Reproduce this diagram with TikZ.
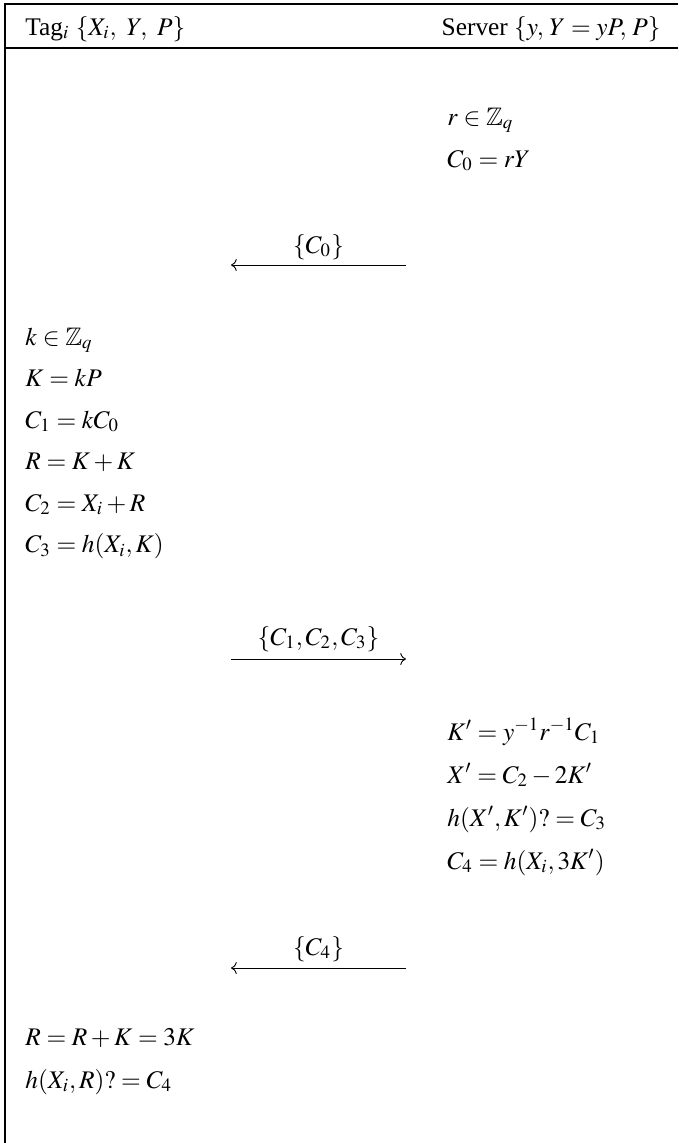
\documentclass[tikz,border=0pt]{standalone}
\usepackage{amssymb}
\usepackage{mathptmx}
\usepackage{fontspec}
\setmainfont{Liberation Serif}
\usetikzlibrary{arrows.meta,positioning}
\newcommand{\protofont}{\fontsize{11pt}{13pt}\selectfont}
\tikzset{
  protoframe/.style={draw=black,line width=0.65pt},
  protohead/.style={inner sep=0pt,font=\protofont},
  protostep/.style={inner sep=0pt,anchor=base west,font=\protofont},
  protomsg/.style={inner sep=0pt,anchor=base,font=\protofont},
  protoflow/.style={-To,draw=black,line width=0.4pt}
}

\begin{document}
\begin{tikzpicture}[x=0.434pt,y=-0.434pt]
  \useasboundingbox (0,0) rectangle (678,1143);
  % frame of the table
  \draw[protoframe] (678,4) -- (5,4) -- (5,1143);
  \draw[protoframe] (5,48) -- (678,48);
  % header
  \node[protohead,anchor=base west] (tag) at (25,35) {Tag$_i$ $\{X_i,\mkern5mu Y,\mkern5mu P\}$};
  \node[protohead,anchor=base east] (server) at (661,35) {Server $\{y,\mkern2mu Y=yP,\mkern2mu P\}$};
  % server: first step
  \node[protostep] (s1) at (447,125) {$r\in\mathbb{Z}_q$};
  \node[protostep] (s2) at (447,167) {$C_0=rY$};
  % message 1
  \coordinate (m1a) at (406,265);
  \coordinate (m1b) at (231,265);
  \draw[protoflow] (m1a) -- (m1b);
  \node[protomsg] (m1) at (318.5,253) {$\{C_0\}$};
  % tag: response
  \node[protostep] (t1) at (25,345) {$k\in\mathbb{Z}_q$};
  \node[protostep] (t2) at (25,386.5) {$K=kP$};
  \node[protostep] (t3) at (25,428) {$C_1=kC_0$};
  \node[protostep] (t4) at (25,469.5) {$R=K+K$};
  \node[protostep] (t5) at (25,511) {$C_2=X_i+R$};
  \node[protostep] (t6) at (25,552.5) {$C_3=h(X_i,K)$};
  % message 2
  \coordinate (m2a) at (231,659);
  \coordinate (m2b) at (406,659);
  \draw[protoflow] (m2a) -- (m2b);
  \node[protomsg] (m2) at (318.5,645) {$\{C_1,C_2,C_3\}$};
  % server: check
  \node[protostep] (s3) at (447,740) {$K'=y^{-1}r^{-1}C_1$};
  \node[protostep] (s4) at (447,783) {$X'=C_2-2K'$};
  \node[protostep] (s5) at (447,826) {$h(X',K')?=C_3$};
  \node[protostep] (s6) at (447,869) {$C_4=h(X_i,3K')$};
  % message 3
  \coordinate (m3a) at (406,968);
  \coordinate (m3b) at (231,968);
  \draw[protoflow] (m3a) -- (m3b);
  \node[protomsg] (m3) at (318.5,955) {$\{C_4\}$};
  % tag: final check
  \node[protostep] (t7) at (25,1045) {$R=R+K=3K$};
  \node[protostep] (t8) at (25,1088) {$h(X_i,R)?=C_4$};
\end{tikzpicture}
\end{document}
